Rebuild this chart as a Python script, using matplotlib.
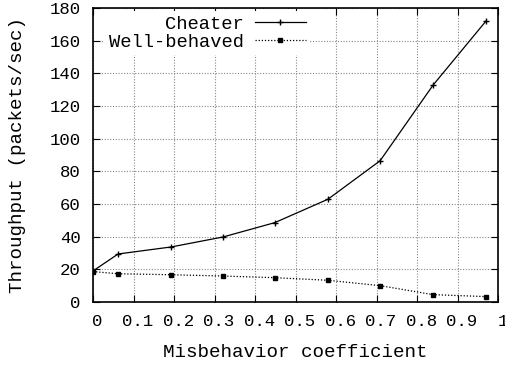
import matplotlib
matplotlib.use('Agg')
import matplotlib.pyplot as plt
import matplotlib.transforms as mtransforms

# data
misbehavior = [0.0, 0.062, 0.193, 0.321, 0.449, 0.58, 0.709, 0.84, 0.97]
cheater = [19.0, 29.4, 33.7, 39.8, 48.6, 62.9, 86.5, 132.9, 171.9]
well_behaved = [18.6, 17.3, 16.7, 15.9, 14.9, 13.3, 10.0, 4.5, 3.3]

x_ticks = [0, 0.1, 0.2, 0.3, 0.4, 0.5, 0.6, 0.7, 0.8, 0.9, 1]
x_tick_labels = ['0', '0.1', '0.2', '0.3', '0.4', '0.5', '0.6', '0.7', '0.8', '0.9', '1']
y_ticks = [0, 20, 40, 60, 80, 100, 120, 140, 160, 180]

plt.rcParams['font.family'] = ['Liberation Mono', 'DejaVu Sans Mono']
fs_tick = 12.5
fs_label = 13.8
fs_leg = 13.5

fig = plt.figure(figsize=(5.05, 3.65), dpi=100)
ax = fig.add_axes([93 / 505, 63 / 365, 405 / 505, 294 / 365])

ax.plot(misbehavior, cheater, color='black', lw=0.9, marker='+', ms=5, mew=1.0,
        label='Cheater', zorder=3)
ax.plot(misbehavior, well_behaved, color='black', lw=0.9, ls=(0, (1, 1.5)),
        marker='s', ms=3, label='Well-behaved', zorder=3)

ax.set_xlim(0, 1)
ax.set_ylim(0, 180)
ax.set_xticks(x_ticks)
ax.set_xticklabels(x_tick_labels)
ax.set_yticks(y_ticks)

ax.tick_params(direction='in', top=True, right=True, length=5, width=0.8,
               labelsize=fs_tick, colors='black')
ax.tick_params(axis='y', pad=9)
ax.tick_params(axis='x', pad=9)
offset = mtransforms.ScaledTranslation(4.5 / 100, 0, fig.dpi_scale_trans)
for lbl in ax.get_xticklabels():
    lbl.set_transform(lbl.get_transform() + offset)

ax.grid(True, color='#888888', ls=(0, (1, 1.5)), lw=0.8)
for sp in ax.spines.values():
    sp.set_linewidth(1.2)

ax.set_xlabel('Misbehavior coefficient', fontsize=fs_label, labelpad=10.5)
ax.set_ylabel('Throughput (packets/sec)', fontsize=fs_label, labelpad=17)

leg = ax.legend(loc='upper right', bbox_to_anchor=(0.56, 1.022), markerfirst=False,
                fontsize=fs_leg, handlelength=2.7, handletextpad=0.6, labelspacing=0.05,
                borderpad=0.25, frameon=True, fancybox=False, framealpha=1,
                edgecolor='none', facecolor='white', numpoints=1)
leg.set_zorder(2)

fig.savefig('out.png', dpi=100)
